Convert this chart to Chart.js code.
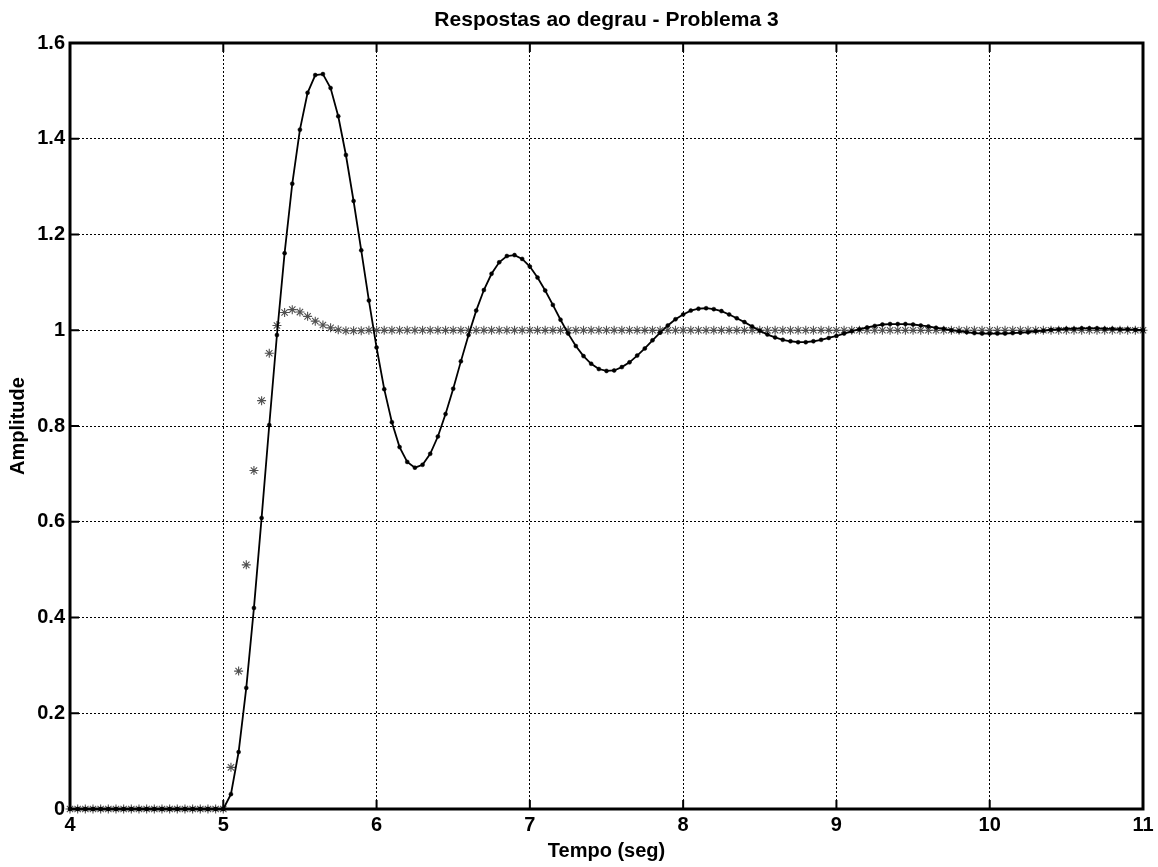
<!DOCTYPE html>
<html>
<head>
<meta charset="utf-8">
<title>Respostas ao degrau - Problema 3</title>
<script src="https://cdn.jsdelivr.net/npm/chart.js@4.4.0/dist/chart.umd.min.js"></script>
<style>
  body { margin: 0; background: #fff; }
  #wrap { width: 1158px; height: 867px; }
</style>
</head>
<body>
<div id="wrap"><canvas id="myChart"></canvas></div>
<script>
// tempo (seg), amostras de 0.05
var tempo = [
  4.00, 4.05, 4.10, 4.15, 4.20, 4.25, 4.30, 4.35, 4.40, 4.45,
  4.50, 4.55, 4.60, 4.65, 4.70, 4.75, 4.80, 4.85, 4.90, 4.95,
  5.00, 5.05, 5.10, 5.15, 5.20, 5.25, 5.30, 5.35, 5.40, 5.45,
  5.50, 5.55, 5.60, 5.65, 5.70, 5.75, 5.80, 5.85, 5.90, 5.95,
  6.00, 6.05, 6.10, 6.15, 6.20, 6.25, 6.30, 6.35, 6.40, 6.45,
  6.50, 6.55, 6.60, 6.65, 6.70, 6.75, 6.80, 6.85, 6.90, 6.95,
  7.00, 7.05, 7.10, 7.15, 7.20, 7.25, 7.30, 7.35, 7.40, 7.45,
  7.50, 7.55, 7.60, 7.65, 7.70, 7.75, 7.80, 7.85, 7.90, 7.95,
  8.00, 8.05, 8.10, 8.15, 8.20, 8.25, 8.30, 8.35, 8.40, 8.45,
  8.50, 8.55, 8.60, 8.65, 8.70, 8.75, 8.80, 8.85, 8.90, 8.95,
  9.00, 9.05, 9.10, 9.15, 9.20, 9.25, 9.30, 9.35, 9.40, 9.45,
  9.50, 9.55, 9.60, 9.65, 9.70, 9.75, 9.80, 9.85, 9.90, 9.95,
  10.00, 10.05, 10.10, 10.15, 10.20, 10.25, 10.30, 10.35, 10.40, 10.45,
  10.50, 10.55, 10.60, 10.65, 10.70, 10.75, 10.80, 10.85, 10.90, 10.95,
  11.00
];

// resposta com linha e pontos
var resposta1 = [
  0, 0, 0, 0, 0, 0, 0, 0, 0, 0,
  0, 0, 0, 0, 0, 0, 0, 0, 0, 0,
  0.000, 0.031, 0.119, 0.253, 0.420, 0.608, 0.802, 0.990, 1.161, 1.306,
  1.419, 1.496, 1.533, 1.535, 1.506, 1.447, 1.366, 1.270, 1.167, 1.062,
  0.964, 0.877, 0.808, 0.756, 0.725, 0.713, 0.719, 0.742, 0.778, 0.825,
  0.878, 0.935, 0.990, 1.041, 1.084, 1.118, 1.142, 1.155, 1.157, 1.149,
  1.133, 1.110, 1.083, 1.053, 1.022, 0.993, 0.967, 0.946, 0.930, 0.919,
  0.915, 0.916, 0.923, 0.933, 0.947, 0.962, 0.979, 0.995, 1.010, 1.023,
  1.033, 1.041, 1.045, 1.046, 1.044, 1.040, 1.033, 1.025, 1.017, 1.008,
  0.999, 0.991, 0.985, 0.980, 0.977, 0.975, 0.975, 0.977, 0.980, 0.984,
  0.988, 0.993, 0.998, 1.002, 1.006, 1.009, 1.012, 1.013, 1.013, 1.013,
  1.012, 1.010, 1.008, 1.005, 1.003, 1.000, 0.998, 0.996, 0.994, 0.993,
  0.993, 0.993, 0.993, 0.994, 0.995, 0.996, 0.998, 0.999, 1.001, 1.002,
  1.003, 1.003, 1.004, 1.004, 1.004, 1.003, 1.003, 1.002, 1.002, 1.001,
  1.000
];

// resposta com asteriscos
var resposta2 = [
  0, 0, 0, 0, 0, 0, 0, 0, 0, 0,
  0, 0, 0, 0, 0, 0, 0, 0, 0, 0,
  0.000, 0.087, 0.288, 0.510, 0.707, 0.853, 0.952, 1.010, 1.037, 1.043,
  1.038, 1.029, 1.019, 1.011, 1.005, 1.001, 0.999, 0.999, 0.999, 1.000,
  1.000, 1.000, 1.000, 1.000, 1.000, 1.000, 1.000, 1.000, 1.000, 1.000,
  1.000, 1.000, 1.000, 1.000, 1.000, 1.000, 1.000, 1.000, 1.000, 1.000,
  1.000, 1.000, 1.000, 1.000, 1.000, 1.000, 1.000, 1.000, 1.000, 1.000,
  1.000, 1.000, 1.000, 1.000, 1.000, 1.000, 1.000, 1.000, 1.000, 1.000,
  1.000, 1.000, 1.000, 1.000, 1.000, 1.000, 1.000, 1.000, 1.000, 1.000,
  1.000, 1.000, 1.000, 1.000, 1.000, 1.000, 1.000, 1.000, 1.000, 1.000,
  1.000, 1.000, 1.000, 1.000, 1.000, 1.000, 1.000, 1.000, 1.000, 1.000,
  1.000, 1.000, 1.000, 1.000, 1.000, 1.000, 1.000, 1.000, 1.000, 1.000,
  1.000, 1.000, 1.000, 1.000, 1.000, 1.000, 1.000, 1.000, 1.000, 1.000,
  1.000, 1.000, 1.000, 1.000, 1.000, 1.000, 1.000, 1.000, 1.000, 1.000,
  1.000
];

var xTicks = ['4', '5', '6', '7', '8', '9', '10', '11'];
var yTicks = ['0', '0.2', '0.4', '0.6', '0.8', '1', '1.2', '1.4', '1.6'];

var fonte = "'Liberation Sans', Arial, sans-serif";

function pontos(ys) {
  var out = [];
  for (var i = 0; i < tempo.length; i++) out.push({x: tempo[i], y: ys[i]});
  return out;
}

// caixa estilo matlab com ticks para dentro
var caixa = {
  id: 'caixa',
  afterDatasetsDraw: function(chart) {
    var ctx = chart.ctx, a = chart.chartArea;
    var sx = chart.scales.x, sy = chart.scales.y;
    ctx.save();
    ctx.strokeStyle = '#000';
    ctx.lineWidth = 2;
    ctx.beginPath();
    sx.ticks.forEach(function(t) {
      var px = sx.getPixelForValue(t.value);
      ctx.moveTo(px, a.bottom); ctx.lineTo(px, a.bottom - 9);
      ctx.moveTo(px, a.top); ctx.lineTo(px, a.top + 9);
    });
    sy.ticks.forEach(function(t) {
      var py = sy.getPixelForValue(t.value);
      ctx.moveTo(a.left, py); ctx.lineTo(a.left + 9, py);
      ctx.moveTo(a.right, py); ctx.lineTo(a.right - 9, py);
    });
    ctx.stroke();
    ctx.lineWidth = 3;
    ctx.strokeRect(a.left, a.top, a.right - a.left, a.bottom - a.top);
    ctx.restore();
  }
};

var ctx = document.getElementById('myChart').getContext('2d');
var grafico = new Chart(ctx, {
  type: 'line',
  data: {
    datasets: [
      {
        label: 'resposta 1',
        data: pontos(resposta1),
        borderColor: '#000',
        backgroundColor: '#000',
        borderWidth: 1.8,
        pointRadius: 2,
        pointStyle: 'circle',
        pointBackgroundColor: '#000',
        pointBorderColor: '#000',
        pointBorderWidth: 0.5,
        tension: 0,
        clip: 8
      },
      {
        label: 'resposta 2',
        data: pontos(resposta2),
        showLine: false,
        borderColor: '#505050',
        pointStyle: 'star',
        pointRadius: 4.5,
        pointBorderColor: '#505050',
        pointBorderWidth: 1.1,
        clip: 8
      }
    ]
  },
  plugins: [caixa],
  options: {
    responsive: true,
    maintainAspectRatio: false,
    animation: false,
    layout: { padding: { top: 0, right: 15, bottom: 0, left: 0 } },
    plugins: {
      legend: { display: false },
      tooltip: { enabled: false },
      title: {
        display: true,
        text: 'Respostas ao degrau - Problema 3',
        color: '#000',
        fullSize: false,
        font: { family: fonte, size: 21, weight: 'bold', lineHeight: 1.2 },
        padding: { top: 8, bottom: 9.8 }
      }
    },
    scales: {
      x: {
        type: 'linear',
        min: 4,
        max: 11,
        afterFit: function(s) { s.height = 58; },
        ticks: {
          stepSize: 1,
          color: '#000',
          padding: 4,
          font: { family: fonte, size: 20, weight: 'bold' },
          callback: function(v) { return xTicks[Math.round(v - 4)]; }
        },
        grid: { color: '#000', lineWidth: 1, drawTicks: false },
        border: { display: false, dash: [2, 2] },
        title: {
          display: true,
          text: 'Tempo (seg)',
          color: '#000',
          font: { family: fonte, size: 20, weight: 'bold', lineHeight: 1.2 },
          padding: { top: 0, bottom: 4 }
        }
      },
      y: {
        type: 'linear',
        min: 0,
        max: 1.6,
        afterFit: function(s) { s.width = 70; },
        ticks: {
          stepSize: 0.2,
          color: '#000',
          padding: 5,
          font: { family: fonte, size: 20, weight: 'bold' },
          callback: function(v) { return yTicks[Math.round(v / 0.2)]; }
        },
        grid: { color: '#000', lineWidth: 1, drawTicks: false },
        border: { display: false, dash: [2, 2] },
        title: {
          display: true,
          text: 'Amplitude',
          color: '#000',
          font: { family: fonte, size: 20, weight: 'bold', lineHeight: 1.2 },
          padding: { top: 6, bottom: 0 }
        }
      }
    }
  }
});
</script>
</body>
</html>
